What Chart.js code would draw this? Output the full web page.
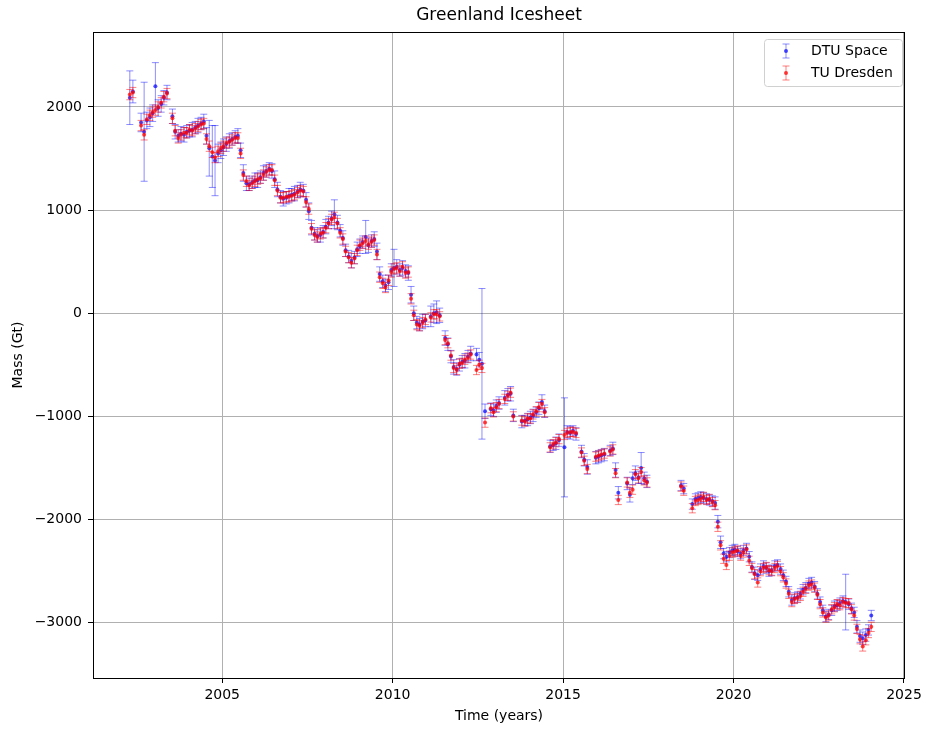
<!DOCTYPE html>
<html>
<head>
<meta charset="utf-8">
<script src="https://cdn.jsdelivr.net/npm/chart.js@4.4.1/dist/chart.umd.min.js"></script>
<style>
  html, body { margin: 0; padding: 0; background: #ffffff; }
  #wrap { width: 926px; height: 729px; }
</style>
</head>
<body>
<div id="wrap"><canvas id="chart" width="926" height="729"></canvas></div>
<script>
// Monthly solution epochs (decimal years), GRACE 2002-2017 and GRACE-FO 2018-2024
const decimalYears = [
  2002.29, 2002.38, 2002.62, 2002.71, 2002.79, 2002.88, 2002.96,
  2003.04, 2003.12, 2003.21, 2003.29, 2003.38, 2003.54, 2003.62, 2003.71, 2003.79, 2003.88, 2003.96,
  2004.04, 2004.12, 2004.21, 2004.29, 2004.38, 2004.46, 2004.54, 2004.62, 2004.71, 2004.79, 2004.88, 2004.96,
  2005.04, 2005.12, 2005.21, 2005.29, 2005.38, 2005.46, 2005.54, 2005.62, 2005.71, 2005.79, 2005.88, 2005.96,
  2006.04, 2006.12, 2006.21, 2006.29, 2006.38, 2006.46, 2006.54, 2006.62, 2006.71, 2006.79, 2006.88, 2006.96,
  2007.04, 2007.12, 2007.21, 2007.29, 2007.38, 2007.46, 2007.54, 2007.62, 2007.71, 2007.79, 2007.88, 2007.96,
  2008.04, 2008.12, 2008.21, 2008.29, 2008.38, 2008.46, 2008.54, 2008.62, 2008.71, 2008.79, 2008.88, 2008.96,
  2009.04, 2009.12, 2009.21, 2009.29, 2009.38, 2009.46, 2009.54, 2009.62, 2009.71, 2009.79, 2009.88, 2009.96,
  2010.04, 2010.12, 2010.21, 2010.29, 2010.38, 2010.46, 2010.54, 2010.62, 2010.71, 2010.79, 2010.88, 2010.96,
  2011.12, 2011.21, 2011.29, 2011.38, 2011.54, 2011.62, 2011.71, 2011.79, 2011.88, 2011.96,
  2012.04, 2012.12, 2012.21, 2012.29, 2012.46, 2012.54, 2012.62, 2012.71, 2012.88, 2012.96,
  2013.04, 2013.12, 2013.29, 2013.38, 2013.46, 2013.54, 2013.79, 2013.88, 2013.96,
  2014.04, 2014.12, 2014.21, 2014.29, 2014.38, 2014.46, 2014.62, 2014.71, 2014.79, 2014.88,
  2015.04, 2015.12, 2015.21, 2015.29, 2015.38, 2015.54, 2015.62, 2015.71, 2015.96,
  2016.04, 2016.12, 2016.21, 2016.38, 2016.46, 2016.54, 2016.62, 2016.88, 2016.96,
  2017.04, 2017.12, 2017.21, 2017.29, 2017.38, 2017.46,
  2018.46, 2018.54, 2018.79, 2018.88, 2018.96,
  2019.04, 2019.12, 2019.21, 2019.29, 2019.38, 2019.46, 2019.54, 2019.62, 2019.71, 2019.79, 2019.88, 2019.96,
  2020.04, 2020.12, 2020.21, 2020.29, 2020.38, 2020.46, 2020.54, 2020.62, 2020.71, 2020.79, 2020.88, 2020.96,
  2021.04, 2021.12, 2021.21, 2021.29, 2021.38, 2021.46, 2021.54, 2021.62, 2021.71, 2021.79, 2021.88, 2021.96,
  2022.04, 2022.12, 2022.21, 2022.29, 2022.38, 2022.46, 2022.54, 2022.62, 2022.71, 2022.79, 2022.88, 2022.96,
  2023.04, 2023.12, 2023.21, 2023.29, 2023.38, 2023.46, 2023.54, 2023.62, 2023.71, 2023.79, 2023.88, 2023.96,
  2024.04
];

// DTU Space mass anomaly (Gt) and 1-sigma uncertainty
const dtuMass = [
  2090, 2150, 1850, 1760, 1870, 1900, 1940,
  2200, 1990, 2030, 2090, 2140, 1910, 1760, 1720, 1740, 1730, 1760,
  1770, 1780, 1800, 1820, 1840, 1860, 1720, 1600, 1520, 1480, 1550, 1580,
  1610, 1640, 1670, 1690, 1710, 1720, 1580, 1360, 1260, 1250, 1270, 1290,
  1290, 1320, 1360, 1380, 1400, 1380, 1300, 1200, 1130, 1110, 1120, 1140,
  1150, 1160, 1180, 1200, 1190, 1100, 990, 830, 770, 750, 760, 790,
  840, 880, 920, 960, 880, 800, 730, 610, 550, 510, 540, 620,
  650, 690, 740, 660, 700, 720, 600, 380, 310, 270, 300, 420,
  440, 450, 420, 440, 410, 390, 180, 0, -90, -110, -80, -70,
  -30, 0, 10, -20, -240, -300, -420, -520, -540, -500,
  -470, -460, -420, -390, -400, -450, -490, -950, -930, -940,
  -900, -870, -820, -790, -780, -990, -1050, -1040, -1030,
  -1010, -990, -960, -920, -860, -950, -1290, -1280, -1260, -1230,
  -1300, -1150, -1160, -1140, -1170, -1340, -1420, -1490, -1400,
  -1390, -1380, -1370, -1330, -1310, -1520, -1740, -1650, -1760,
  -1600, -1550, -1590, -1500, -1600, -1630,
  -1670, -1700, -1850, -1800, -1790,
  -1780, -1790, -1800, -1810, -1820, -1840, -2020, -2220, -2330, -2360, -2320, -2300,
  -2290, -2310, -2330, -2300, -2280, -2360, -2460, -2520, -2540, -2480, -2450, -2470,
  -2500, -2490, -2450, -2440, -2480, -2540, -2600, -2700, -2780, -2760, -2750, -2720,
  -2680, -2660, -2620, -2610, -2650, -2720, -2800, -2880, -2940, -2920, -2880, -2840,
  -2830, -2810, -2790, -2800, -2820, -2860, -2900, -3040, -3130, -3150, -3120, -3070,
  -2930
];
const dtuSigma = [
  260, 110, 90, 480, 80, 90, 80,
  230, 80, 80, 70, 70, 70, 70, 60, 70, 70, 60,
  60, 70, 60, 70, 60, 70, 80, 270, 300, 340, 90, 80,
  80, 70, 70, 60, 60, 70, 70, 80, 70, 60, 60, 70,
  70, 60, 70, 60, 60, 70, 80, 70, 60, 70, 60, 70,
  60, 70, 60, 70, 60, 70, 80, 70, 60, 60, 70, 60,
  70, 60, 70, 140, 70, 60, 70, 60, 60, 70, 60, 70,
  70, 60, 160, 70, 60, 70, 80, 70, 60, 60, 70, 60,
  180, 70, 60, 70, 60, 70, 80, 70, 60, 60, 70, 60,
  100, 90, 110, 70, 70, 60, 60, 70, 60, 60,
  60, 70, 60, 70, 60, 70, 730, 70, 60, 60,
  60, 60, 70, 60, 70, 60, 60, 50, 60,
  60, 60, 50, 60, 70, 60, 60, 50, 60, 60,
  480, 60, 60, 50, 60, 60, 60, 70, 60,
  60, 60, 60, 50, 60, 70, 60, 60, 70,
  60, 70, 60, 150, 60, 60,
  50, 50, 50, 50, 50,
  50, 50, 50, 50, 50, 60, 60, 60, 50, 50, 50, 50,
  50, 50, 50, 50, 50, 50, 50, 60, 50, 50, 50, 50,
  50, 50, 50, 50, 50, 50, 50, 50, 50, 50, 50, 50,
  50, 50, 50, 50, 50, 50, 50, 50, 50, 50, 50, 50,
  50, 50, 50, 270, 50, 50, 50, 60, 60, 60, 60, 50,
  50
];

// TU Dresden mass anomaly (Gt) and 1-sigma uncertainty
const tudMass = [
  2120, 2140, 1820, 1730, 1880, 1920, 1950,
  1970, 2000, 2040, 2100, 2130, 1890, 1770, 1700, 1730, 1750, 1750,
  1780, 1770, 1790, 1810, 1830, 1840, 1690, 1620, 1560, 1510, 1570, 1600,
  1620, 1650, 1660, 1680, 1700, 1700, 1550, 1340, 1280, 1240, 1260, 1280,
  1300, 1310, 1340, 1370, 1390, 1390, 1290, 1190, 1120, 1120, 1130, 1130,
  1140, 1150, 1170, 1190, 1180, 1080, 1010, 820, 760, 740, 770, 780,
  830, 870, 910, 930, 870, 780, 720, 600, 540, 490, 530, 610,
  660, 680, 700, 670, 690, 710, 570, 350, 290, 250, 320, 400,
  430, 440, 410, 450, 390, 400, 140, -20, -110, -120, -90, -60,
  -40, -10, -10, -30, -260, -290, -410, -530, -550, -490,
  -480, -450, -430, -400, -550, -500, -530, -1060, -920, -960,
  -910, -880, -830, -800, -770, -1000, -1040, -1050, -1020,
  -1020, -980, -950, -910, -880, -960, -1300, -1270, -1250, -1220,
  -1180, -1160, -1150, -1150, -1160, -1350, -1430, -1510, -1390,
  -1380, -1370, -1360, -1340, -1320, -1550, -1810, -1640, -1740,
  -1710, -1560, -1600, -1540, -1620, -1640,
  -1680, -1720, -1890, -1820, -1810,
  -1800, -1780, -1810, -1800, -1830, -1860, -2070, -2250, -2380, -2440, -2350, -2320,
  -2310, -2300, -2350, -2320, -2290, -2400, -2470, -2530, -2610, -2500, -2470, -2460,
  -2490, -2500, -2470, -2450, -2500, -2560, -2620, -2720, -2800, -2770, -2760, -2740,
  -2700, -2670, -2640, -2630, -2660, -2730, -2820, -2900, -2950, -2930, -2870, -2850,
  -2820, -2830, -2800, -2810, -2810, -2870, -2930, -3060, -3160, -3230, -3170, -3100,
  -3040
];
const tudSigma = [
  50, 50, 50, 50, 50, 50, 50,
  50, 50, 50, 50, 50, 50, 50, 50, 50, 50, 50,
  50, 50, 50, 50, 50, 50, 50, 50, 50, 50, 50, 50,
  50, 50, 50, 50, 50, 50, 50, 50, 50, 50, 50, 50,
  50, 50, 50, 50, 50, 50, 50, 50, 50, 50, 50, 50,
  50, 50, 50, 50, 50, 50, 50, 50, 50, 50, 50, 50,
  50, 50, 50, 50, 50, 50, 50, 50, 50, 50, 50, 50,
  50, 50, 50, 50, 50, 50, 50, 50, 50, 50, 50, 50,
  50, 50, 50, 50, 50, 50, 50, 50, 50, 50, 50, 50,
  45, 45, 45, 45, 45, 45, 45, 45, 45, 45,
  45, 45, 45, 45, 45, 45, 45, 45, 45, 45,
  45, 45, 45, 45, 45, 45, 45, 45, 45,
  45, 45, 45, 45, 45, 45, 45, 45, 45, 45,
  45, 45, 45, 45, 45, 45, 45, 45, 45,
  45, 45, 45, 45, 45, 45, 45, 45, 45,
  45, 45, 45, 45, 45, 45,
  45, 45, 45, 45, 45,
  45, 45, 45, 45, 45, 45, 45, 45, 45, 45, 45, 45,
  45, 45, 45, 45, 45, 45, 45, 45, 45, 45, 45, 45,
  45, 45, 45, 45, 45, 45, 45, 45, 45, 45, 45, 45,
  45, 45, 45, 45, 45, 45, 45, 45, 45, 45, 45, 45,
  45, 45, 45, 45, 45, 45, 45, 45, 45, 45, 45, 45,
  45
];

const xTickValues = [2005, 2010, 2015, 2020, 2025];
const yTickValues = [-3000, -2000, -1000, 0, 1000, 2000];
const seriesNames = ['DTU Space', 'TU Dresden'];

const FONT = 'DejaVu Sans';
const BLUE_BAR = 'rgba(0, 0, 255, 0.45)';
const BLUE_DOT = 'rgba(0, 0, 255, 0.7)';
const RED_BAR = 'rgba(255, 0, 0, 0.5)';
const RED_DOT = 'rgba(255, 0, 0, 0.75)';

const toPoints = (ys) => decimalYears.map((t, i) => ({ x: t, y: ys[i] }));
// tick labels use a true minus sign
const fmtTick = v => String(v).replace('-', '\u2212');

// Vertical error bars with caps, drawn underneath each dataset's markers
const errorBarPlugin = {
  id: 'errorBars',
  beforeDatasetDraw(chart, args) {
    const ds = chart.data.datasets[args.index];
    if (!ds.sigma) return;
    const { ctx, chartArea } = chart;
    const yScale = chart.scales.y;
    const cap = 3.5;
    ctx.save();
    ctx.beginPath();
    ctx.rect(chartArea.left, chartArea.top, chartArea.right - chartArea.left, chartArea.bottom - chartArea.top);
    ctx.clip();
    ctx.strokeStyle = ds.barColor;
    ctx.lineWidth = 1;
    args.meta.data.forEach((pt, i) => {
      const v = ds.data[i].y;
      const s = ds.sigma[i];
      const yTop = yScale.getPixelForValue(v + s);
      const yBot = yScale.getPixelForValue(v - s);
      const x = pt.x;
      ctx.beginPath();
      ctx.moveTo(x, yTop); ctx.lineTo(x, yBot);
      ctx.moveTo(x - cap, yTop); ctx.lineTo(x + cap, yTop);
      ctx.moveTo(x - cap, yBot); ctx.lineTo(x + cap, yBot);
      ctx.stroke();
    });
    ctx.restore();
  }
};

// Axes frame, title and legend box
const framePlugin = {
  id: 'frame',
  afterDraw(chart) {
    const { ctx, chartArea: a } = chart;
    ctx.save();
    ctx.strokeStyle = '#000';
    ctx.lineWidth = 1;
    ctx.strokeRect(Math.round(a.left) + 0.5, Math.round(a.top) + 0.5,
                   Math.round(a.right - a.left) - 1, Math.round(a.bottom - a.top));

    // title
    ctx.fillStyle = '#000';
    ctx.font = '17px "' + FONT + '"';
    ctx.textAlign = 'center';
    ctx.textBaseline = 'middle';
    ctx.fillText('Greenland Icesheet', (a.left + a.right) / 2, 16);

    // legend
    const bx = a.right - 141, by = a.top + 7, bw = 138, bh = 47;
    ctx.beginPath();
    ctx.roundRect(bx + 0.5, by + 0.5, bw, bh, 3);
    ctx.fillStyle = 'rgba(255,255,255,0.8)';
    ctx.fill();
    ctx.strokeStyle = '#d0d0d0';
    ctx.stroke();

    const rows = [
      { label: seriesNames[0], bar: BLUE_BAR, dot: BLUE_DOT, y: by + 12 },
      { label: seriesNames[1], bar: RED_BAR, dot: RED_DOT, y: by + 34 }
    ];
    rows.forEach(r => {
      const ix = bx + 22;
      ctx.strokeStyle = r.bar;
      ctx.lineWidth = 1;
      ctx.beginPath();
      ctx.moveTo(ix, r.y - 7); ctx.lineTo(ix, r.y + 7);
      ctx.moveTo(ix - 3.5, r.y - 7); ctx.lineTo(ix + 3.5, r.y - 7);
      ctx.moveTo(ix - 3.5, r.y + 7); ctx.lineTo(ix + 3.5, r.y + 7);
      ctx.stroke();
      ctx.fillStyle = r.dot;
      ctx.beginPath();
      ctx.arc(ix, r.y, 2, 0, Math.PI * 2);
      ctx.fill();
      ctx.fillStyle = '#000';
      ctx.font = '14px "' + FONT + '"';
      ctx.textAlign = 'left';
      ctx.textBaseline = 'middle';
      ctx.fillText(r.label, bx + 47, r.y);
    });
    ctx.restore();
  }
};

Chart.defaults.font.family = FONT;
Chart.defaults.color = '#000';

new Chart(document.getElementById('chart'), {
  type: 'scatter',
  data: {
    datasets: [
      {
        label: seriesNames[0],
        data: toPoints(dtuMass),
        sigma: dtuSigma,
        barColor: BLUE_BAR,
        pointRadius: 2,
        pointBorderWidth: 0,
        pointBackgroundColor: BLUE_DOT,
        order: 1
      },
      {
        label: seriesNames[1],
        data: toPoints(tudMass),
        sigma: tudSigma,
        barColor: RED_BAR,
        pointRadius: 2,
        pointBorderWidth: 0,
        pointBackgroundColor: RED_DOT,
        order: 0
      }
    ]
  },
  options: {
    responsive: false,
    animation: false,
    devicePixelRatio: 1,
    layout: { padding: { left: 0, right: 21, top: 32, bottom: 0 } },
    plugins: {
      legend: { display: false },
      tooltip: { enabled: false },
      title: { display: false }
    },
    scales: {
      x: {
        type: 'linear',
        min: 2001.21,
        max: 2025.03,
        afterBuildTicks: s => { s.ticks = xTickValues.map(v => ({ value: v })); },
        afterFit: s => { s.height = 51; },
        ticks: { color: '#000', font: { size: 14 }, padding: 4, maxRotation: 0, callback: fmtTick },
        grid: { color: '#b0b0b0', lineWidth: 1, drawTicks: true, tickLength: 5, tickColor: '#000', tickWidth: 1 },
        border: { display: false },
        title: { display: true, text: 'Time (years)', color: '#000', font: { size: 14 }, padding: { top: 0, bottom: 4 } }
      },
      y: {
        type: 'linear',
        min: -3536,
        max: 2727,
        afterBuildTicks: s => { s.ticks = yTickValues.map(v => ({ value: v })); },
        afterFit: s => { s.width = 93; },
        ticks: { color: '#000', font: { size: 14 }, padding: 6, callback: fmtTick },
        grid: { color: '#b0b0b0', lineWidth: 1, drawTicks: true, tickLength: 5, tickColor: '#000', tickWidth: 1 },
        border: { display: false },
        title: { display: true, text: 'Mass (Gt)', color: '#000', font: { size: 14 }, padding: { top: 10, bottom: 0 } }
      }
    }
  },
  plugins: [errorBarPlugin, framePlugin]
});
</script>
</body>
</html>
